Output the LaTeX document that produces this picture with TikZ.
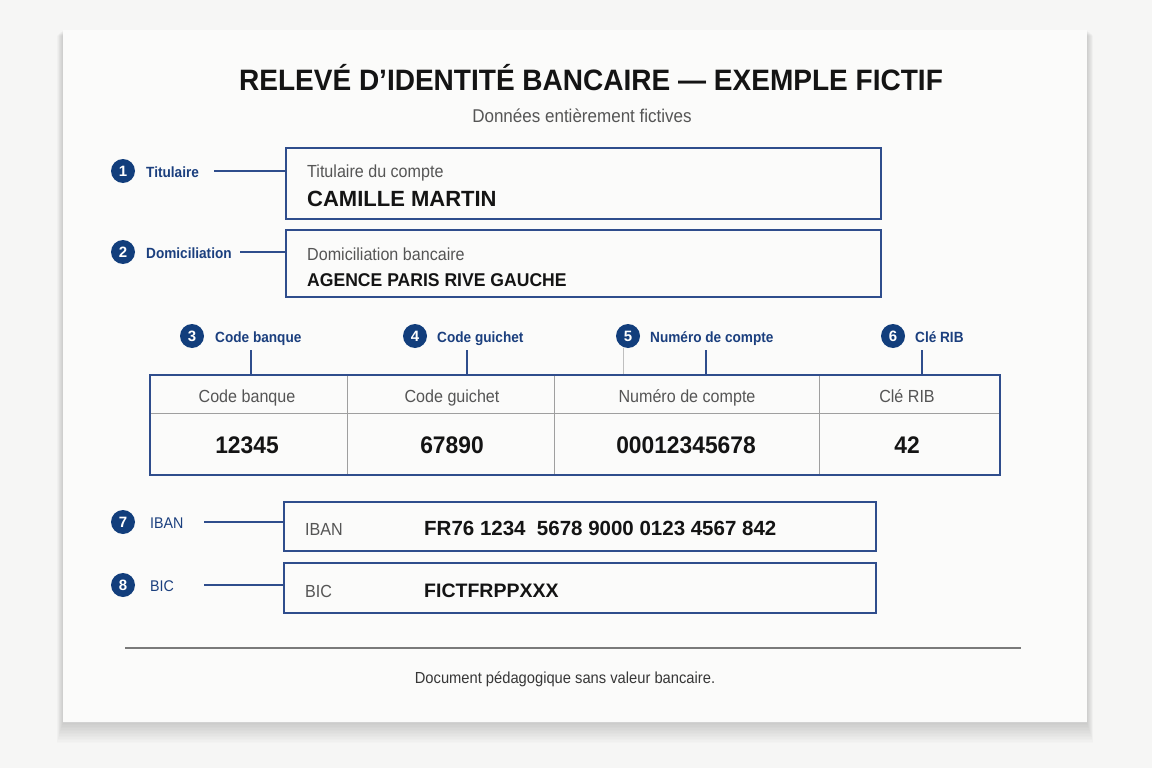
\documentclass[tikz,border=0pt]{standalone}
\usepackage{fontspec}
\setmainfont{Liberation Sans}
\usetikzlibrary{calc}
\definecolor{bg}{HTML}{F6F6F5}
\definecolor{card}{HTML}{FBFBFA}
\definecolor{navy}{HTML}{123E7C}
\definecolor{boxblue}{HTML}{2F4D8C}
\definecolor{lblue}{HTML}{1B3F7E}
\definecolor{lgray}{HTML}{555555}
\definecolor{ink}{HTML}{141414}
\definecolor{rule}{HTML}{7A7A7A}
\newcommand\fs[1]{\fontsize{#1}{#1}\selectfont}
\newcommand\cz[1]{\scalebox{0.92}[1]{#1}}
\newcommand\czt[1]{\scalebox{0.95}[1]{#1}}
\tikzset{
  badge/.style={circle, fill=navy, text=white, inner sep=0pt, minimum size=24pt, font=\bfseries\fs{15}},
  blabel/.style={anchor=mid west, text=lblue, inner sep=0pt, font=\bfseries\fs{14.8}},
  rlabel/.style={anchor=mid west, text=lblue, inner sep=0pt, font=\fs{15.5}},
  infobox/.style={draw=boxblue, line width=1.5pt, fill=card, anchor=north west, inner sep=0pt},
  conn/.style={draw=boxblue, line width=1.2pt},
  small/.style={anchor=mid west, text=lgray, inner sep=0pt, font=\fs{17.5}},
  big/.style={anchor=mid west, text=ink, inner sep=0pt, font=\bfseries},
  hdr/.style={anchor=mid, text=lgray, inner sep=0pt, font=\fs{17.5}},
  val/.style={anchor=mid, text=ink, inner sep=0pt, font=\bfseries\fs{24}},
  grid/.style={draw=gray!75, line width=1pt},
}
\begin{document}
\begin{tikzpicture}[x=1pt,y=-1pt]
\useasboundingbox (0,0) rectangle (1152,768);
\fill[bg] (0,0) rectangle (1152,768);
% shadow
\foreach \i in {1,...,14}{
  \fill[black, opacity=0.011] ({63-\i*0.45},{30+\i*0.4}) rectangle ({1087+\i*0.45},{722+\i*1.5});
}
\node[fill=card, anchor=north west, minimum width=1024pt, minimum height=692pt, inner sep=0pt] (card) at (63,30) {};
\draw[gray!35, line width=0.8pt] (card.south west) -- (card.south east);
% title
\node[anchor=mid, text=ink, font=\bfseries\fs{29.5}, inner sep=0pt] (title) at (591,88) {\czt{RELEVÉ D’IDENTITÉ BANCAIRE — EXEMPLE FICTIF}};
\node[anchor=mid, text=lgray, font=\fs{18.5}, inner sep=0pt] (sub) at (582,120) {\cz{Données entièrement fictives}};

% box 1
\node[infobox, minimum width=595pt, minimum height=71pt] (b1) at (285,147) {};
\node[small] (b1a) at (307,175) {\cz{Titulaire du compte}};
\node[big, font=\bfseries\fs{22}] (b1b) at (307,203.5) {CAMILLE MARTIN};
\node[badge] (n1) at (123,171) {1};
\node[blabel] (l1) at (146,175) {\cz{Titulaire}};
\coordinate (c1) at (214,171);
\draw[conn] (c1) -- (c1 -| b1.west);

% box 2
\node[infobox, minimum width=595pt, minimum height=67pt] (b2) at (285,229) {};
\node[small] (b2a) at (307,258) {\cz{Domiciliation bancaire}};
\node[big, font=\bfseries\fs{18.5}] (b2b) at (307,283.5) {\czt{AGENCE PARIS RIVE GAUCHE}};
\node[badge] (n2) at (123,252) {2};
\node[blabel] (l2) at (146,256) {\cz{Domiciliation}};
\coordinate (c2) at (240,252);
\draw[conn] (c2) -- (c2 -| b2.west);

% table
\node[infobox, minimum width=850pt, minimum height=100pt] (tbl) at (149,374) {};
\draw[grid] (149,413) -- (999,413);
\draw[grid] (347,374) -- (347,474);
\draw[grid] (554,374) -- (554,474);
\draw[grid] (819,374) -- (819,474);
\node[draw=boxblue, line width=1.5pt, minimum width=850pt, minimum height=100pt, anchor=north west, inner sep=0pt] (tblframe) at (149,374) {};
\node[hdr] (h1) at (247,400) {\cz{Code banque}};
\node[hdr] (h2) at (452,400) {\cz{Code guichet}};
\node[hdr] (h3) at (687,400) {\cz{Numéro de compte}};
\node[hdr] (h4) at (907,400) {\cz{Clé RIB}};
\node[val] (v1) at (247,451) {\czt{12345}};
\node[val] (v2) at (452,451) {\czt{67890}};
\node[val] (v3) at (686,451) {\czt{00012345678}};
\node[val] (v4) at (907,451) {\czt{42}};

\node[badge] (n3) at (192,336) {3};
\node[blabel] (l3) at (215,340) {\cz{Code banque}};
\node[badge] (n4) at (415,336) {4};
\node[blabel] (l4) at (437,340) {\cz{Code guichet}};
\node[badge] (n5) at (628,336) {5};
\node[blabel] (l5) at (650,340) {\cz{Numéro de compte}};
\node[badge] (n6) at (893,336) {6};
\node[blabel] (l6) at (915,340) {\cz{Clé RIB}};
\coordinate (t3) at (251,350);
\coordinate (t4) at (467,350);
\coordinate (t5) at (706,350);
\coordinate (t5b) at (623,348);
\coordinate (t6) at (922,350);
\draw[conn] (t3) -- (t3 |- tbl.north);
\draw[conn] (t4) -- (t4 |- tbl.north);
\draw[conn] (t5) -- (t5 |- tbl.north);
\draw[draw=gray!50, line width=0.8pt] (t5b) -- (t5b |- tbl.north);
\draw[conn] (t6) -- (t6 |- tbl.north);

% IBAN
\node[infobox, minimum width=592pt, minimum height=49pt] (b7) at (283,501) {};
\node[small] (b7a) at (305,533) {\cz{IBAN}};
\node[big, font=\bfseries\fs{20.5}] (b7b) at (424,533) {FR76 1234\ \ 5678 9000 0123 4567 842};
\node[badge] (n7) at (123,522) {7};
\node[rlabel] (l7) at (150,526) {\cz{IBAN}};
\coordinate (c7) at (204,522);
\draw[conn] (c7) -- (c7 -| b7.west);

% BIC
\node[infobox, minimum width=592pt, minimum height=50pt] (b8) at (283,562) {};
\node[small] (b8a) at (305,595) {\cz{BIC}};
\node[big, font=\bfseries\fs{19.5}] (b8b) at (424,595) {FICTFRPPXXX};
\node[badge] (n8) at (123,585) {8};
\node[rlabel] (l8) at (150,589) {\cz{BIC}};
\coordinate (c8) at (204,585);
\draw[conn] (c8) -- (c8 -| b8.west);

% footer
\coordinate (r1) at (125,648);
\coordinate (r2) at (1021,648);
\draw[draw=rule, line width=1.5pt] (r1) -- (r2);
\node[anchor=mid, text=ink!85, font=\fs{16}, inner sep=0pt] (foot) at (565,681) {\cz{Document pédagogique sans valeur bancaire.}};
\end{tikzpicture}
\end{document}
